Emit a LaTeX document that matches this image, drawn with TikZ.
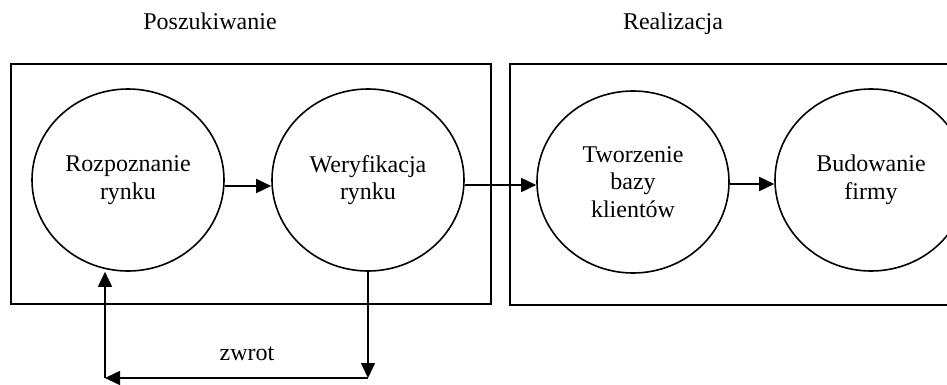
\documentclass[tikz,border=0pt]{standalone}
\usepackage{fontspec}
\setmainfont{Liberation Serif}
\usetikzlibrary{arrows.meta,shapes.geometric}
\begin{document}
\begin{tikzpicture}[x=0.5pt,y=-0.5pt,line width=0.8pt,
    etap/.style={draw,ellipse,minimum width=96pt,minimum height=91pt,inner sep=0pt,
      align=center,font=\fontsize{12}{13.8}\selectfont},
    opis/.style={anchor=base,font=\fontsize{12}{13.8}\selectfont},
    >={Triangle[length=7.5pt,width=7pt]}]
      \clip (0,0) rectangle (947,385);
      % dwie fazy
      \draw (11,64) rectangle (491,304);
      \draw (510,64) rectangle (965,305);
      \draw
        (210,30) node[opis] (p){Poszukiwanie}
        (673,30) node[opis] (r){Realizacja}
        (128,180) node[etap] (0){Rozpoznanie\\rynku}
        (368,180) node[etap] (1){Weryfikacja\\rynku}
        (633,182) node[etap] (2){Tworzenie\\bazy\\klientów}
        (871,180) node[etap] (3){Budowanie\\firmy}
        (247,360) node[opis] (z){zwrot};
      \coordinate (a) at (368,378);
      \coordinate (b) at (105,378);
      \begin{scope}[->]
        \draw (0.east |- 0,186) -- (1.west |- 0,186);
        \draw (1.east |- 0,185) -- (2.west |- 0,185);
        \draw (2.east |- 0,184) -- (3.west |- 0,184);
        \draw (1.south) -- (a);
        \draw (a) -- (b);
        \draw (b) -- (b |- 0.south);
      \end{scope}
    \end{tikzpicture}
\end{document}
